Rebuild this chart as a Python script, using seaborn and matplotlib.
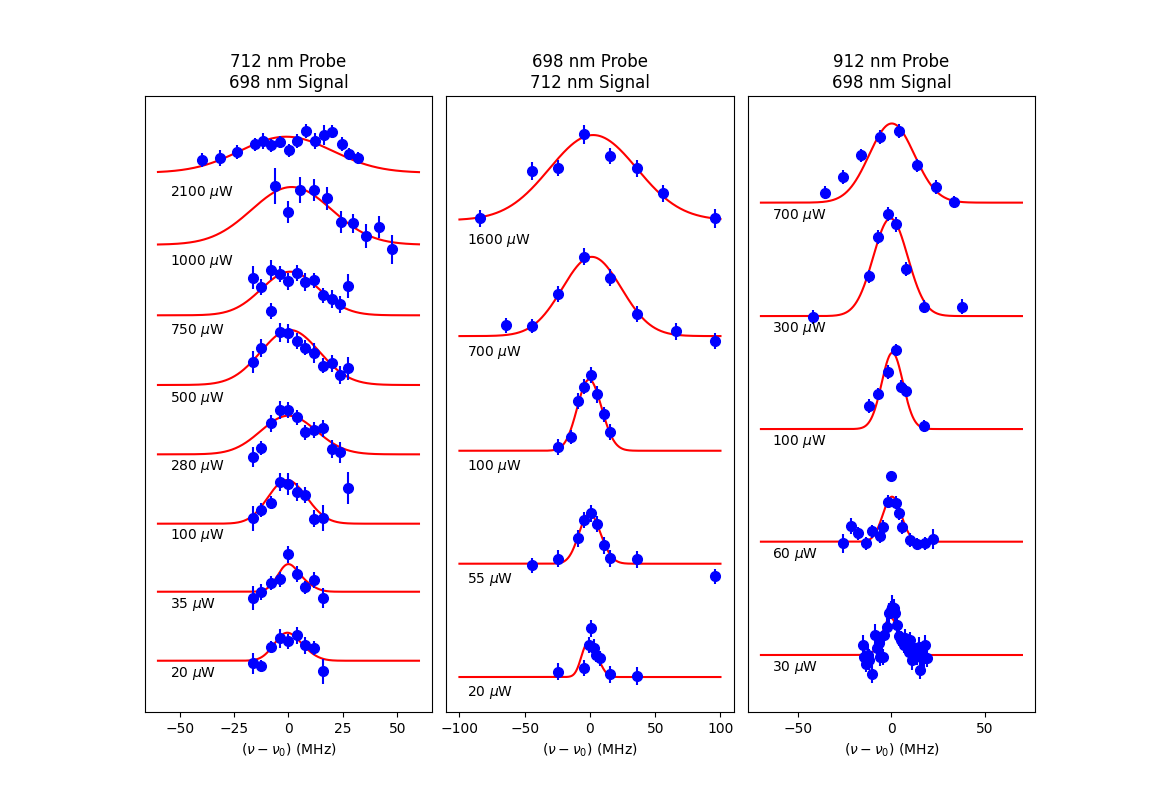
import numpy as np
import seaborn as sns
import matplotlib
matplotlib.use('Agg')
import matplotlib.pyplot as plt

# ---------------- panel 1: 712 nm probe / 698 nm signal ----------------
p1_power = [20, 35, 100, 280, 500, 750, 1000, 2100]
p1_x = [
    [-16.5, -12.4, -8.2, -4.1, -0.3, 3.8, 7.8, 11.6, 15.7],
    [-16.5, -12.4, -8.2, -4.1, -0.3, 3.8, 7.8, 11.6, 15.7],
    [-16.5, -12.4, -8.2, -4.1, -0.3, 3.8, 7.8, 11.6, 15.7, 27.4],
    [-16.5, -12.4, -8.2, -4.1, -0.3, 3.8, 7.8, 11.6, 15.7, 19.8, 23.9],
    [-16.5, -12.4, -8.2, -4.1, -0.3, 3.8, 7.8, 11.6, 15.7, 19.8, 23.9, 27.4],
    [-16.5, -12.4, -8.2, -4.1, -0.3, 3.8, 7.8, 11.6, 15.7, 19.8, 23.9, 27.4],
    [-6.4, -0.4, 5.5, 11.6, 17.7, 24.0, 29.7, 35.7, 41.6, 47.4],
    [-39.6, -31.6, -23.6, -15.5, -11.9, -7.9, -3.7, 0.2, 4.1, 8.2, 12.4, 16.2, 20.1, 24.4, 27.9, 32.0],
]
p1_y = [
    [-0.038, -0.072, 0.194, 0.324, 0.281, 0.368, 0.223, 0.184, -0.154],
    [0.904, 0.996, 1.122, 1.180, 1.542, 1.257, 1.064, 1.170, 0.904],
    [2.064, 2.184, 2.293, 2.594, 2.557, 2.441, 2.401, 2.058, 2.064, 2.499],
    [2.948, 3.083, 3.441, 3.633, 3.633, 3.528, 3.310, 3.343, 3.368, 3.064, 3.020],
    [4.325, 4.536, 5.068, 4.759, 4.745, 4.629, 4.536, 4.455, 4.275, 4.310, 4.141, 4.238],
    [5.551, 5.420, 5.658, 5.604, 5.499, 5.619, 5.484, 5.513, 5.296, 5.238, 5.165, 5.430],
    [6.880, 6.503, 6.822, 6.822, 6.701, 6.358, 6.339, 6.155, 6.286, 5.962],
    [7.257, 7.286, 7.372, 7.484, 7.527, 7.469, 7.517, 7.401, 7.536, 7.677, 7.527, 7.619, 7.667, 7.484, 7.343, 7.286],
]
p1_err = [
    [0.157, 0.085, 0.085, 0.133, 0.109, 0.12, 0.12, 0.097, 0.18],
    [0.174, 0.109, 0.10, 0.106, 0.12, 0.109, 0.097, 0.12, 0.145],
    [0.18, 0.097, 0.10, 0.13, 0.157, 0.133, 0.12, 0.12, 0.19, 0.234],
    [0.145, 0.097, 0.12, 0.135, 0.12, 0.109, 0.104, 0.114, 0.12, 0.133, 0.157],
    [0.157, 0.133, 0.109, 0.138, 0.135, 0.116, 0.109, 0.145, 0.109, 0.12, 0.13, 0.164],
    [0.17, 0.114, 0.145, 0.116, 0.126, 0.114, 0.128, 0.109, 0.109, 0.133, 0.121, 0.17],
    [0.26, 0.164, 0.188, 0.157, 0.164, 0.162, 0.14, 0.174, 0.157, 0.21],
    [0.106, 0.11, 0.10, 0.097, 0.116, 0.09, 0.09, 0.094, 0.10, 0.10, 0.116, 0.14, 0.097, 0.1, 0.085, 0.09],
]
# fit parameters: baseline, peak height, centre, width, shoulder ratio
p1_base = [0.0, 1.0, 1.986, 2.991, 3.996, 5.006, 6.029, 7.072]
p1_height = [0.406, 0.40, 0.633, 0.56, 0.797, 0.632, 0.836, 0.522]
p1_center = [-1.5, -0.5, -3.0, -2.5, -1.0, -1.8, -1.5, -4.0]
p1_width = [5.5, 4.6, 7.9, 12.2, 13.0, 12.6, 18.0, 20.9]
p1_shoulder = [0.3, 0.25, 0.5, 0.5, 0.3, 0.5, 0.6, 0.6]
p1_label_y = [-0.19, 0.81, 1.82, 2.81, 3.80, 4.78, 5.79, 6.78]

# ---------------- panel 2: 698 nm probe / 712 nm signal ----------------
p2_power = [20, 55, 100, 700, 1600]
p2_x = [
    [-24.2, -4.8, 0.5, -0.5, 2.8, 4.4, 7.7, 15.3, 36.0],
    [-44.4, -24.5, -9.2, -4.8, 0.5, 5.4, 10.7, 15.3, 36.0, 95.6],
    [-24.5, -14.8, -9.2, -4.8, 0.5, 5.4, 10.7, 15.3],
    [-64.3, -44.4, -24.2, -4.6, 15.3, 36.0, 65.8, 95.6],
    [-84.2, -44.4, -24.2, -4.6, 15.3, 36.0, 56.2, 95.6],
]
p2_y = [
    [0.047, 0.077, 0.430, 0.283, 0.259, 0.194, 0.165, 0.024, 0.012],
    [0.987, 1.045, 1.226, 1.387, 1.446, 1.352, 1.164, 1.049, 1.040, 0.890],
    [2.034, 2.123, 2.441, 2.565, 2.665, 2.497, 2.321, 2.162],
    [3.107, 3.101, 3.383, 3.713, 3.527, 3.204, 3.054, 2.968],
    [4.052, 4.470, 4.496, 4.794, 4.602, 4.494, 4.273, 4.052],
]
p2_err = [
    [0.074, 0.071, 0.074, 0.071, 0.074, 0.063, 0.068, 0.074, 0.08],
    [0.068, 0.074, 0.074, 0.074, 0.078, 0.071, 0.074, 0.074, 0.074, 0.066],
    [0.069, 0.062, 0.069, 0.066, 0.071, 0.074, 0.066, 0.071],
    [0.069, 0.066, 0.069, 0.074, 0.074, 0.071, 0.074, 0.074],
    [0.074, 0.077, 0.074, 0.081, 0.074, 0.074, 0.078, 0.085],
]
p2_base = [0.0, 1.001, 1.999, 3.012, 4.035]
p2_height = [0.298, 0.445, 0.63, 0.70, 0.753]
p2_center = [-2.5, -1.7, -2.5, -1.5, -0.5]
p2_width = [4.5, 7.5, 8.5, 22.2, 33.3]
p2_shoulder = [0.45, 0.3, 0.4, 0.6, 0.6]
p2_label_y = [-0.14, 0.86, 1.86, 2.87, 3.86]

# ---------------- panel 3: 912 nm probe / 698 nm signal ----------------
p3_power = [30, 60, 100, 300, 700]
p3_x = [
    [-15.2, -14.6, -13.9, -12.7, -11.8, -10.3, -8.6, -7.9, -6.8, -5.9, -4.4, -4.1,
     -2.3, -1.4, -0.5, 0.4, 1.3, 2.1, 3.1, 4.0, 5.2, 6.6, 7.5, 8.4, 9.3, 10.2,
     11.1, 12.0, 12.9, 13.8, 14.7, 15.5, 16.4, 17.4, 18.2, 19.1],
    [-26.0, -21.9, -18.0, -13.9, -10.2, -6.1, -4.3, -2.1, 0.0, 2.3, 3.8, 5.9, 10.2, 13.9, 18.0, 22.2],
    [-12.3, -7.0, -2.1, 2.7, 5.2, 8.0, 17.7],
    [-42.3, -12.3, -7.0, -2.1, 2.7, 8.0, 17.7, 38.0],
    [-35.9, -26.2, -16.1, -5.9, 4.0, 13.9, 24.1, 33.7],
]
p3_y = [
    [0.088, -0.015, -0.080, 0.0, -0.04, -0.168, 0.177, 0.06, 0.103, -0.021, -0.02, 0.177,
     0.25, 0.368, 0.398, 0.427, 0.413, 0.368, 0.265, 0.168, 0.133, 0.088, 0.15, 0.074, 0.03, 0.133,
     -0.044, 0.059, 0.029, -0.01, 0.07, -0.133, -0.03, -0.029, 0.088, -0.029],
    [0.988, 1.141, 1.076, 0.988, 1.094, 1.055, 1.132, 1.355, 1.583, 1.347, 1.253, 1.129, 1.017, 0.981, 0.988, 1.028],
    [2.199, 2.308, 2.502, 2.697, 2.372, 2.334, 2.025],
    [2.988, 3.348, 3.693, 3.899, 3.808, 3.413, 3.080, 3.080],
    [4.088, 4.226, 4.418, 4.577, 4.633, 4.330, 4.138, 4.005],
]
p3_err = [
    [0.09, 0.08, 0.07, 0.08, 0.09, 0.08, 0.1, 0.08, 0.09, 0.08, 0.07, 0.08,
     0.08, 0.09, 0.08, 0.1, 0.08, 0.07, 0.08, 0.09, 0.08, 0.07, 0.08, 0.09, 0.08, 0.07,
     0.09, 0.08, 0.07, 0.08, 0.09, 0.08, 0.07, 0.08, 0.09, 0.08],
    [0.085, 0.069, 0.059, 0.059, 0.059, 0.066, 0.062, 0.059, 0.04, 0.059, 0.059, 0.062, 0.059, 0.052, 0.059, 0.088],
    [0.063, 0.055, 0.063, 0.053, 0.059, 0.056, 0.056],
    [0.063, 0.059, 0.063, 0.063, 0.068, 0.066, 0.06, 0.066],
    [0.059, 0.059, 0.059, 0.062, 0.062, 0.055, 0.063, 0.055],
]
p3_base = [0.0, 1.002, 1.998, 2.997, 4.0]
p3_height = [0.33, 0.398, 0.675, 0.864, 0.70]
p3_center = [-0.5, 0.3, 0.5, -0.5, 0.2]
p3_width = [4.3, 4.9, 5.7, 9.26, 12.1]
p3_shoulder = [0.0, 0.0, 0.0, 0.0, 0.0]
p3_label_y = [-0.11, 0.89, 1.89, 2.89, 3.89]

titles = ['712 nm Probe\n698 nm Signal', '698 nm Probe\n712 nm Signal', '912 nm Probe\n698 nm Signal']
fit_span = [60, 100, 70]
x_limits = [(-66, 66), (-110, 110), (-77, 77)]
y_limits = [(-0.743, 8.184), (-0.309, 5.133), (-0.504, 4.943)]
x_ticks = [[-50, -25, 0, 25, 50], [-100, -50, 0, 50, 100], [-50, 0, 50]]
label_x = [-54.5, -94, -64]
SPLIT = 8.0  # MHz between main line and shoulder


def line_shape(x, center, width, shoulder):
    g = np.exp(-(x - center) ** 2 / (2 * width ** 2))
    g = g + shoulder * np.exp(-(x - center - SPLIT) ** 2 / (2 * width ** 2))
    return g / g.max()


panels = [
    (p1_power, p1_x, p1_y, p1_err, p1_base, p1_height, p1_center, p1_width, p1_shoulder, p1_label_y),
    (p2_power, p2_x, p2_y, p2_err, p2_base, p2_height, p2_center, p2_width, p2_shoulder, p2_label_y),
    (p3_power, p3_x, p3_y, p3_err, p3_base, p3_height, p3_center, p3_width, p3_shoulder, p3_label_y),
]

fig, axes = plt.subplots(1, 3, figsize=(11.5, 8), dpi=100)
fig.subplots_adjust(left=0.126, right=0.9, bottom=0.11, top=0.88, wspace=0.05)

for k, ax in enumerate(axes):
    power, xs, ys, errs, base, height, center, width, shoulder, lab_y = panels[k]
    xf = np.linspace(-fit_span[k], fit_span[k], 600)
    for i in range(len(power)):
        # fitted line
        yf = base[i] + height[i] * line_shape(xf, center[i], width[i], shoulder[i])
        sns.lineplot(x=xf, y=yf, ax=ax, color='r', linewidth=1.5, estimator=None, sort=False)
        # measured points
        ax.errorbar(xs[i], ys[i], yerr=errs[i], fmt='o', color='b', markersize=7, elinewidth=1.5)
        ax.text(label_x[k], lab_y[i], str(power[i]) + r' $\mu$W', va='center', fontsize=10)
    ax.set_xlim(x_limits[k])
    ax.set_ylim(y_limits[k])
    ax.set_xticks(x_ticks[k])
    ax.set_yticks([])
    ax.set_xlabel(r'$(\nu - \nu_0)$ (MHz)')
    ax.set_title(titles[k])

fig.savefig('out.png', dpi=100)
